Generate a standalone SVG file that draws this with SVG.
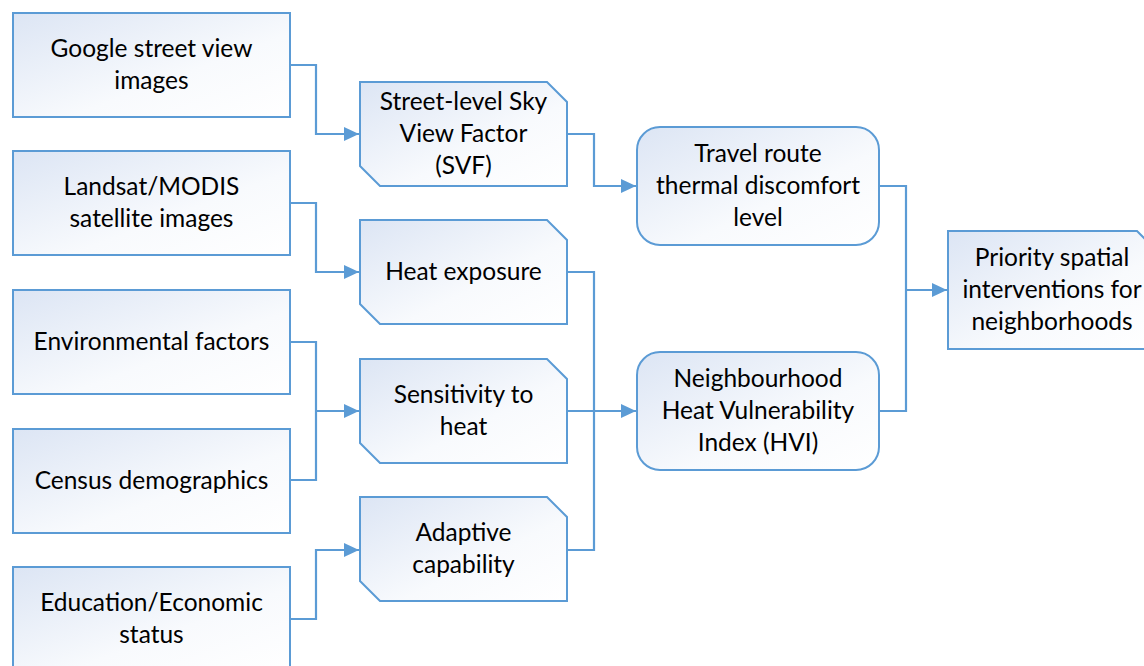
<svg xmlns="http://www.w3.org/2000/svg" width="1144" height="666" viewBox="0 0 1144 666">
<style>
.box{fill:url(#g);stroke:#5b9bd5;stroke-width:2}
.t{font-family:Lato,"Open Sans",sans-serif;font-size:24.5px;fill:#000;text-anchor:middle}
.c{fill:none;stroke:#5b9bd5;stroke-width:2.2}
</style>
<defs>
<linearGradient id="g" x1="0" y1="0" x2="1" y2="1">
<stop offset="0" stop-color="#dce5f4"/>
<stop offset="0.6" stop-color="#f8fafd"/>
<stop offset="1" stop-color="#ffffff"/>
</linearGradient>
<marker id="a" markerWidth="15" markerHeight="14" refX="15" refY="7" orient="auto" markerUnits="userSpaceOnUse">
<path d="M0,0 L15,7 L0,14 Z" fill="#5b9bd5"/>
</marker>
</defs>
<rect width="1144" height="666" fill="#fff"/>
<g id="connectors">
<path class="c" d="M290,65 H316 V134 H359" marker-end="url(#a)"/>
<path class="c" d="M290,203 H316 V272 H359" marker-end="url(#a)"/>
<path class="c" d="M290,342 H316 V480 H290"/>
<path class="c" d="M316,411 H359" marker-end="url(#a)"/>
<path class="c" d="M290,619 H316 V550 H359" marker-end="url(#a)"/>
<path class="c" d="M567,134 H594 V186 H636" marker-end="url(#a)"/>
<path class="c" d="M567,272 H594 V550 H567"/>
<path class="c" d="M567,411 H636" marker-end="url(#a)"/>
<path class="c" d="M879,186 H906 V411 H879"/>
<path class="c" d="M906,290 H947" marker-end="url(#a)"/>
</g>
<g id="google"><rect class="box" x="13" y="13" width="277" height="104"/><text class="t" x="151.5" y="57">Google street view</text><text class="t" x="151.5" y="89">images</text></g>
<g id="landsat"><rect class="box" x="13" y="151" width="277" height="104"/><text class="t" x="151.5" y="195">Landsat/MODIS</text><text class="t" x="151.5" y="227">satellite images</text></g>
<g id="env"><rect class="box" x="13" y="290" width="277" height="104"/><text class="t" x="151.5" y="350">Environmental factors</text></g>
<g id="census"><rect class="box" x="13" y="429" width="277" height="104"/><text class="t" x="151.5" y="489">Census demographics</text></g>
<g id="education"><rect class="box" x="13" y="567" width="277" height="104"/><text class="t" x="151.5" y="611">Education/Economic</text><text class="t" x="151.5" y="643">status</text></g>
<g id="svf"><path class="box" d="M360,82 H547 L567,102 V186 H380 L360,166 Z"/><text class="t" x="463.5" y="110">Street-level Sky</text><text class="t" x="463.5" y="142">View Factor</text><text class="t" x="463.5" y="174">(SVF)</text></g>
<g id="heat"><path class="box" d="M360,220 H547 L567,240 V324 H380 L360,304 Z"/><text class="t" x="463.5" y="280">Heat exposure</text></g>
<g id="sensitivity"><path class="box" d="M360,359 H547 L567,379 V463 H380 L360,443 Z"/><text class="t" x="463.5" y="403">Sensitivity to</text><text class="t" x="463.5" y="435">heat</text></g>
<g id="adaptive"><path class="box" d="M360,497 H547 L567,517 V601 H380 L360,581 Z"/><text class="t" x="463.5" y="541">Adaptive</text><text class="t" x="463.5" y="573">capability</text></g>
<g id="travel"><rect class="box" x="637" y="127" width="242" height="118" rx="23"/><text class="t" x="758" y="162">Travel route</text><text class="t" x="758" y="194">thermal discomfort</text><text class="t" x="758" y="226">level</text></g>
<g id="hvi"><rect class="box" x="637" y="352" width="242" height="118" rx="23"/><text class="t" x="758" y="387">Neighbourhood</text><text class="t" x="758" y="419">Heat Vulnerability</text><text class="t" x="758" y="451">Index (HVI)</text></g>
<g id="priority"><path class="box" d="M948,231 H1137 L1157,251 V349 H948 Z"/><text class="t" x="1052" y="266">Priority spatial</text><text class="t" x="1052" y="298">interventions for</text><text class="t" x="1052" y="330">neighborhoods</text></g>
</svg>
